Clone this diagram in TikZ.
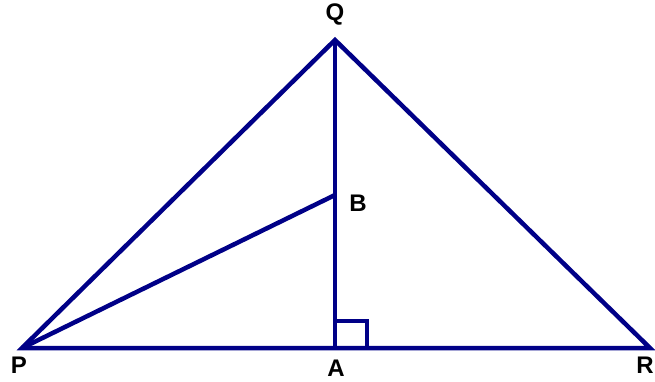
\documentclass[tikz,border=0pt]{standalone}
\usepackage{fontspec}
\setmainfont{Liberation Sans}
\usetikzlibrary{positioning, calc}
\definecolor{TriNavy}{RGB}{0, 0, 135}

\begin{document}
\begin{tikzpicture}[
    x=1pt, y=-1pt,
    every node/.style={inner sep=0pt},
    side/.style={draw=TriNavy, line width=4.5pt, line join=miter},
    rightmark/.style={draw=TriNavy, line width=4pt},
    vlabel/.style={font=\fontsize{24}{24}\selectfont\bfseries, text=black}
]
\useasboundingbox (0,0) rectangle (655,381);

% --- Points -------------------------------------------------------------
\coordinate (P) at (22,348);
\coordinate (Q) at (335,40);
\coordinate (R) at (650,348);
\coordinate (A) at (335,348);
\coordinate (B) at (335,195);

% --- Labels -------------------------------------------------------------
\node[vlabel] (lq) at (335,14)  {Q};
\node[vlabel] (lb) at (358,203) {B};
\node[vlabel] (lp) at (19,365)  {P};
\node[vlabel] (la) at (336,368) {A};
\node[vlabel] (lr) at (645,365) {R};

% --- Triangle -----------------------------------------------------------
\draw[side] (P) -- (Q) -- (R) -- cycle;
\draw[side] (Q) -- (A);
\draw[side] (P) -- (B);

% right angle at A
\draw[rightmark] ($(A)+(0,-27)$) -- ++(32,0) -- ++(0,27);

\end{tikzpicture}
\end{document}
